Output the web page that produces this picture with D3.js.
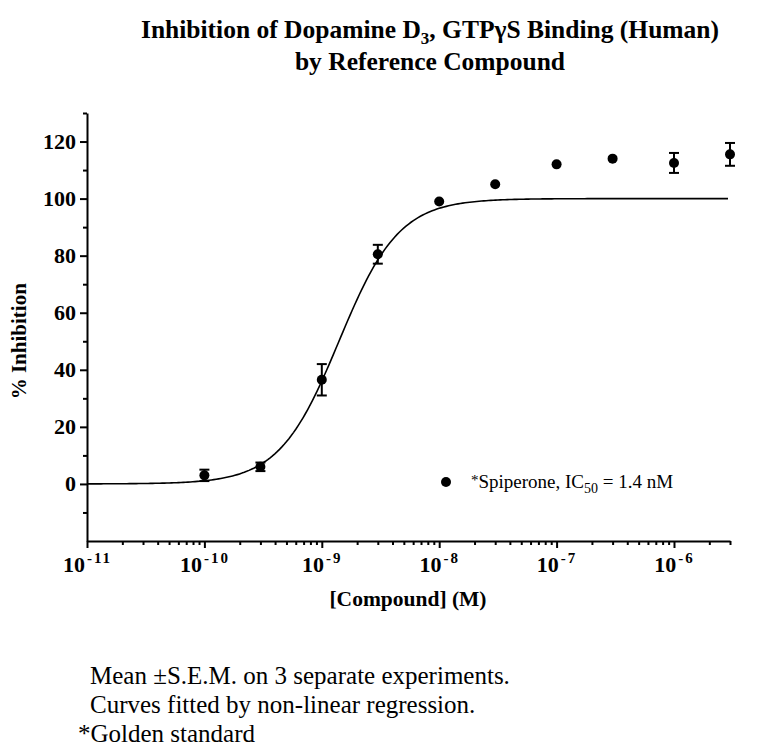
<!DOCTYPE html>
<html>
<head>
<meta charset="utf-8">
<script src="https://cdn.jsdelivr.net/npm/d3@7"></script>
<style>
  body { margin: 0; background: #fff; }
  text { font-family: "Liberation Serif", "Times New Roman", serif; fill: #000; }
</style>
</head>
<body>
<div id="chart"></div>
<script>
// data
var concentrations = [1e-10, 3e-10, 1e-9, 3e-9, 1e-8, 3e-8, 1e-7, 3e-7, 1e-6, 3e-6];
var inhibition     = [3, 6, 36.5, 80.5, 99, 105, 112, 114, 112.5, 115.5];
var sem            = [2, 1.5, 5.5, 3.3, 0, 0, 0, 0, 3.5, 4];
var xTickExponents = [-11, -10, -9, -8, -7, -6];
var yTickValues    = [0, 20, 40, 60, 80, 100, 120];
// fitted curve parameters (4PL)
var fitBottom = 0, fitTop = 100, fitIC50 = 1.4e-9, fitHill = 1.7;

var width = 781, height = 753;
var margin = { top: 113, right: 51, bottom: 212, left: 87 };
var innerW = width - margin.left - margin.right,
    innerH = height - margin.top - margin.bottom;

var svg = d3.select("#chart")
    .append("svg")
    .attr("width", width)
    .attr("height", height);

var g = svg.append("g")
    .attr("transform", "translate(" + margin.left + "," + margin.top + ")");

var x = d3.scaleLog()
    .domain([1e-11, 3e-6])
    .range([0, innerW]);

var y = d3.scaleLinear()
    .domain([-20, 130])
    .range([innerH, 0]);

// title
var title = svg.append("text")
    .attr("x", 430)
    .attr("y", 38)
    .attr("text-anchor", "middle")
    .style("font-size", "25.5px")
    .style("font-weight", "bold");
title.append("tspan").text("Inhibition of Dopamine D");
title.append("tspan").attr("dy", 6).style("font-size", "17px").text("3");
title.append("tspan").attr("dy", -6).text(", GTP\u03B3S Binding (Human)");
svg.append("text")
    .attr("x", 430)
    .attr("y", 70)
    .attr("text-anchor", "middle")
    .style("font-size", "25.5px")
    .style("font-weight", "bold")
    .text("by Reference Compound");

// y axis
var yMinor = d3.range(-10, 131, 20);
g.append("g")
    .call(d3.axisLeft(y).tickValues(yMinor).tickSize(4).tickFormat(""))
    .call(function (s) { s.select(".domain").remove(); })
    .selectAll("line").attr("stroke-width", 2);

var yAxis = g.append("g")
    .call(d3.axisLeft(y).tickValues(yTickValues).tickSize(7).tickSizeOuter(0).tickPadding(4));
yAxis.select(".domain").attr("stroke-width", 2);
yAxis.selectAll("line").attr("stroke-width", 2);
yAxis.selectAll("text")
    .style("font-family", "Liberation Serif, serif")
    .style("font-size", "22px")
    .style("font-weight", "bold");

// x axis
var xMinor = [];
for (var e = -11; e <= -6; e++) {
    for (var m = 2; m <= 9; m++) {
        var v = m * Math.pow(10, e);
        if (v <= 3e-6) xMinor.push(v);
    }
}
g.append("g")
    .attr("transform", "translate(0," + innerH + ")")
    .call(d3.axisBottom(x).tickValues(xMinor).tickSize(4).tickFormat(""))
    .call(function (s) { s.select(".domain").remove(); })
    .selectAll("line").attr("stroke-width", 2);

var xAxis = g.append("g")
    .attr("transform", "translate(0," + innerH + ")")
    .call(d3.axisBottom(x)
        .tickValues(xTickExponents.map(function (d) { return Math.pow(10, d); }))
        .tickSize(7).tickSizeOuter(0).tickFormat(""));
xAxis.select(".domain").attr("stroke-width", 2);
xAxis.selectAll("line").attr("stroke-width", 2);
xAxis.selectAll(".tick").each(function (d, i) {
    var t = d3.select(this).append("text")
        .attr("y", 31)
        .attr("text-anchor", "middle")
        .style("font-size", "22px")
        .style("font-weight", "bold");
    t.append("tspan").text("10");
    t.append("tspan").attr("dy", -9).attr("dx", 2).style("font-size", "15px")
        .style("letter-spacing", "2px")
        .text(xTickExponents[i] < 0 ? "-" + Math.abs(xTickExponents[i]) : xTickExponents[i]);
});

// axis labels
svg.append("text")
    .attr("transform", "translate(26," + (margin.top + y(50)) + ") rotate(-90)")
    .attr("text-anchor", "middle")
    .style("font-size", "21px")
    .style("font-weight", "bold")
    .text("% Inhibition");

svg.append("text")
    .attr("x", 408)
    .attr("y", 606)
    .attr("text-anchor", "middle")
    .style("font-size", "21.5px")
    .style("font-weight", "bold")
    .text("[Compound] (M)");

// fitted curve
var logX = d3.range(Math.log10(1e-11), Math.log10(3e-6) + 0.001, 0.02);
var curve = logX.map(function (lx) {
    var c = Math.pow(10, lx);
    return [c, fitBottom + (fitTop - fitBottom) / (1 + Math.pow(10, (Math.log10(fitIC50) - lx) * fitHill))];
});
g.append("path")
    .datum(curve)
    .attr("fill", "none")
    .attr("stroke", "#000")
    .attr("stroke-width", 1.6)
    .attr("d", d3.line()
        .x(function (d) { return x(d[0]); })
        .y(function (d) { return y(d[1]); }));

// error bars
var pts = concentrations.map(function (c, i) { return { c: c, v: inhibition[i], e: sem[i] }; });
var eb = g.selectAll(".err")
    .data(pts.filter(function (d) { return d.e > 0; }))
    .enter().append("g");
eb.append("line")
    .attr("x1", function (d) { return x(d.c); })
    .attr("x2", function (d) { return x(d.c); })
    .attr("y1", function (d) { return y(d.v - d.e); })
    .attr("y2", function (d) { return y(d.v + d.e); })
    .attr("stroke", "#000").attr("stroke-width", 2);
[-1, 1].forEach(function (s) {
    eb.append("line")
        .attr("x1", function (d) { return x(d.c) - 5; })
        .attr("x2", function (d) { return x(d.c) + 5; })
        .attr("y1", function (d) { return y(d.v + s * d.e); })
        .attr("y2", function (d) { return y(d.v + s * d.e); })
        .attr("stroke", "#000").attr("stroke-width", 2);
});

// points
g.selectAll(".pt")
    .data(pts)
    .enter().append("circle")
    .attr("cx", function (d) { return x(d.c); })
    .attr("cy", function (d) { return y(d.v); })
    .attr("r", 5)
    .attr("fill", "#000");

// legend
g.append("circle")
    .attr("cx", 446 - margin.left)
    .attr("cy", y(0) - 2)
    .attr("r", 5)
    .attr("fill", "#000");
var leg = g.append("text")
    .attr("x", 471 - margin.left)
    .attr("y", y(0) + 4)
    .style("font-size", "19px");
leg.append("tspan").attr("dy", -3).style("font-size", "15px").text("*");
leg.append("tspan").attr("dy", 3).text("Spiperone, IC");
leg.append("tspan").attr("dy", 5).style("font-size", "14px").text("50");
leg.append("tspan").attr("dy", -5).text(" = 1.4 nM");

// footnotes
var notes = [
    { t: "Mean \u00B1S.E.M. on 3 separate experiments.", x: 90, y: 684 },
    { t: "Curves fitted by non-linear regression.", x: 90, y: 713 },
    { t: "*Golden standard", x: 78, y: 742 }
];
svg.selectAll(".note")
    .data(notes)
    .enter().append("text")
    .attr("x", function (d) { return d.x; })
    .attr("y", function (d) { return d.y; })
    .style("font-size", "25px")
    .text(function (d) { return d.t; });
</script>
</body>
</html>
